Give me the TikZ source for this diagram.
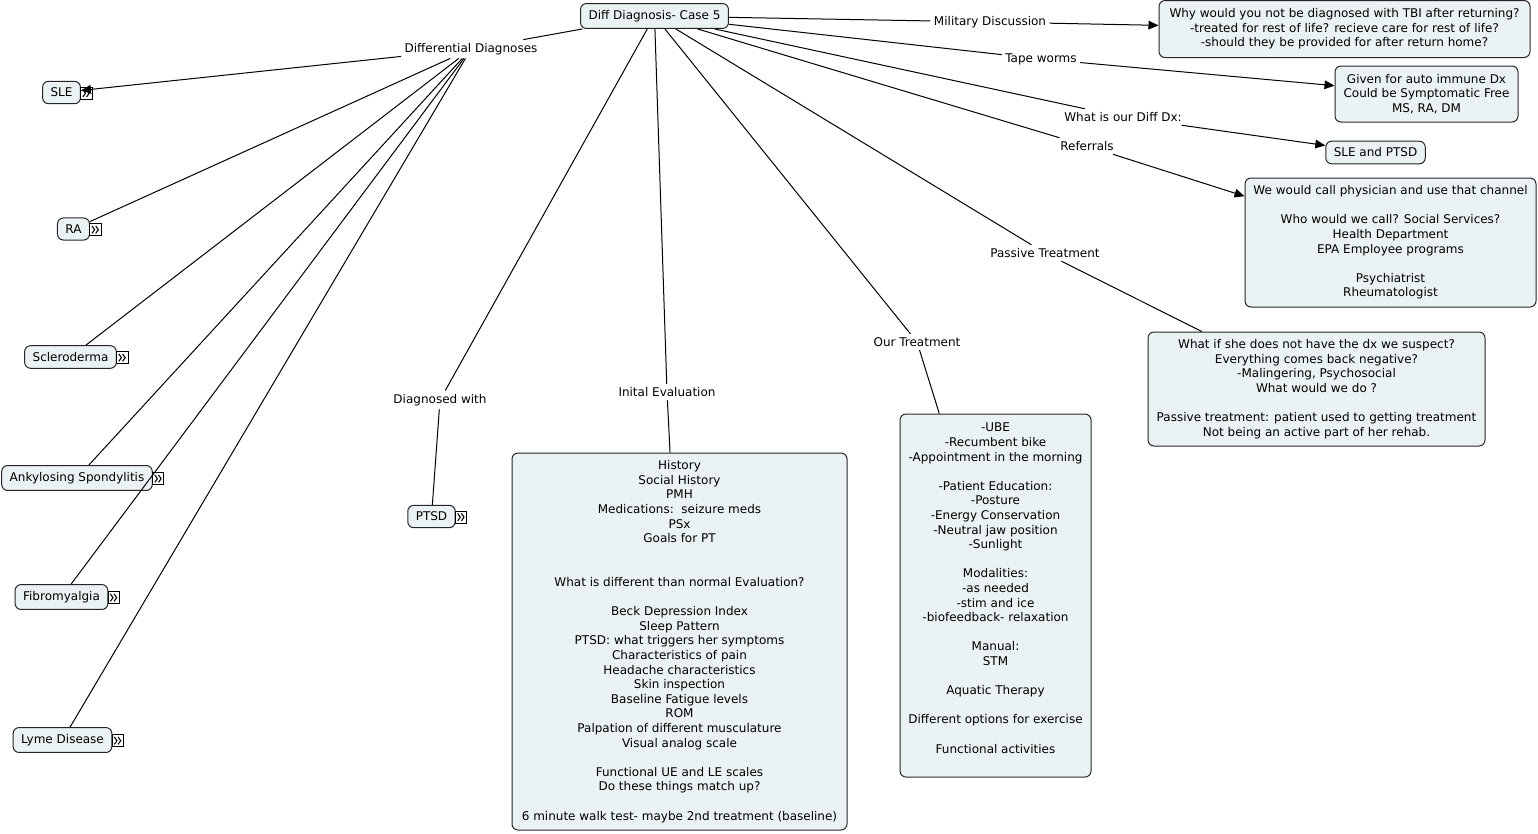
\documentclass[tikz,border=0pt]{standalone}
\usepackage{fontspec}
\setmainfont{DejaVu Sans}
\usetikzlibrary{positioning,arrows.meta}
\definecolor{conceptfill}{RGB}{235,242,244}

\begin{document}
\begin{tikzpicture}[x=0.75pt,y=-0.75pt,
		font=\fontsize{9}{10.95}\selectfont,
		concept/.style={draw=black!85,fill=conceptfill,rounded corners=4.5pt,align=center,inner xsep=6pt,inner ysep=5pt,line width=0.75pt},
		phrase/.style={inner sep=2.5pt,align=center},
		expander/.style={draw,fill=white,line width=0.6pt,inner sep=0pt,minimum width=8.5pt,minimum height=9pt,
			path picture={
				\draw[line width=0.8pt] ([xshift=-2.6pt,yshift=2.8pt]path picture bounding box.center)
					-- ++(2pt,-2.8pt) -- ++(-2pt,-2.8pt);
				\draw[line width=0.8pt] ([xshift=0.2pt,yshift=2.8pt]path picture bounding box.center)
					-- ++(2pt,-2.8pt) -- ++(-2pt,-2.8pt);}},
		link/.style={line width=0.75pt},
		linkto/.style={link,-{Triangle[length=7.5pt,width=6.5pt]}}]
			\useasboundingbox (0,0) rectangle (1538,833);
			% centre and left branch
			\node[concept] (root) at (654.5,16) {Diff Diagnosis- Case 5};
			\node[phrase] (dd) at (471,49) {Differential Diagnoses};
			\node[concept] (sle) at (61.5,92.5) {SLE};
			\node[concept] (ra) at (73.5,229) {RA};
			\node[concept] (scl) at (70.5,357) {Scleroderma};
			\node[concept] (as) at (77,478) {Ankylosing Spondylitis};
			\node[concept] (fib) at (61.5,597) {Fibromyalgia};
			\node[concept] (lyme) at (62.5,740) {Lyme Disease};
			\node[phrase] (dgw) at (440,400) {Diagnosed with};
			\node[concept] (ptsd) at (431.5,516.5) {PTSD};
			\foreach \nd in {sle,ra,scl,as,fib,lyme,ptsd}
				\node[expander, right=-0.5pt of \nd, yshift=-0.5pt] (\nd-x) {};

			% lower boxes
			\node[phrase] (ie) at (667,392) {Inital Evaluation};
			\node[concept,minimum width=251.25pt,minimum height=282.75pt] (iebox) at (679.5,641.5)
				{History\\Social History\\PMH\\Medications:~~seizure meds\\PSx\\Goals for PT\\~\\~\\
				What is different than normal Evaluation?\\~\\Beck Depression Index\\Sleep Pattern\\
				PTSD: what triggers her symptoms\\Characteristics of pain\\Headache characteristics\\
				Skin inspection\\Baseline Fatigue levels\\ROM\\Palpation of different musculature\\
				Visual analog scale\\~\\Functional UE and LE scales\\Do these things match up?\\~\\
				6 minute walk test- maybe 2nd treatment (baseline)};
			\node[phrase] (ot) at (917,342) {Our Treatment};
			\node[concept,minimum width=143.25pt,minimum height=272.25pt] (otbox) at (995.5,595.5)
				{-UBE\\-Recumbent bike\\-Appointment in the morning\\~\\-Patient Education:\\-Posture\\
				-Energy Conservation\\-Neutral jaw position\\-Sunlight\\~\\Modalities:\\-as needed\\
				-stim and ice\\-biofeedback- relaxation\\~\\Manual:\\STM\\~\\Aquatic Therapy\\~\\
				Different options for exercise\\~\\Functional activities\\~};

			% right branch
			\node[phrase] (mil) at (990,22) {Military Discussion};
			\node[concept,minimum width=278.25pt,minimum height=42.75pt] (milbox) at (1344.5,29)
				{Why would you not be diagnosed with TBI after returning?\\
				-treated for rest of life? recieve care for rest of life?\\
				-should they be provided for after return home?};
			\node[phrase] (tw) at (1041,59) {Tape worms};
			\node[concept,minimum width=137.25pt,minimum height=42pt] (twbox) at (1426.5,94)
				{Given for auto immune Dx\\Could be Symptomatic Free\\MS, RA, DM};
			\node[phrase] (wdx) at (1123,117) {What is our Diff Dx:};
			\node[concept] (dxbox) at (1375.5,152.5) {SLE and PTSD};
			\node[phrase] (ref) at (1087,146) {Referrals};
			\node[concept,minimum width=218.25pt,minimum height=96.75pt] (refbox) at (1390.5,242.5)
				{We would call physician and use that channel\\~\\Who would we call? Social Services?\\
				Health Department\\EPA Employee programs\\~\\Psychiatrist\\Rheumatologist};
			\node[phrase] (pt) at (1045,253) {Passive Treatment};
			\node[concept,minimum width=252.75pt,minimum height=85.5pt] (ptbox) at (1316.5,389)
				{What if she does not have the dx we suspect?\\Everything comes back negative?\\
				-Malingering, Psychosocial\\What would we do ?\\~\\
				Passive treatment: patient used to getting treatment\\Not being an active part of her rehab.};

			\path[link]
			(root) edge (dd) edge (dgw) edge (ie) edge (ot) edge (pt)
				edge (ref) edge (wdx) edge (tw) edge (mil)
			(dd) edge[linkto] (sle) edge (ra) edge (scl) edge (as) edge (fib) edge (lyme)
			(dgw) edge (ptsd)
			(ie) edge (iebox)
			(ot) edge (otbox)
			(pt) edge (ptbox)
			(ref) edge[linkto] (refbox)
			(wdx) edge[linkto] (dxbox)
			(tw) edge[linkto] (twbox)
			(mil) edge[linkto] (milbox);
		\end{tikzpicture}
\end{document}
